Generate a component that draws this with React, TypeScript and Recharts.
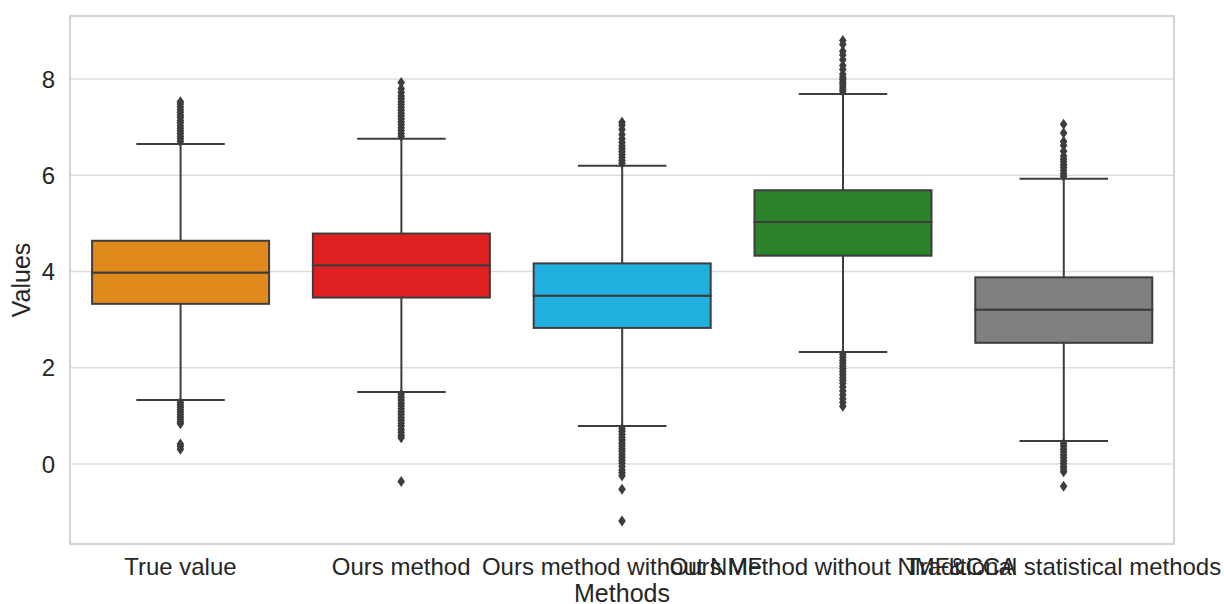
import {
  ComposedChart,
  Bar,
  Scatter,
  XAxis,
  YAxis,
  CartesianGrid,
  ReferenceArea,
} from 'recharts';

// Box plot summary per method
const methods = [
  'True value',
  'Ours method',
  'Ours method without NMF',
  'Ours Method without NMF&CCA',
  'Traditional statistical methods',
];
const whiskerLow = [1.33, 1.5, 0.79, 2.33, 0.48];
const q1 = [3.33, 3.46, 2.83, 4.33, 2.52];
const median = [3.98, 4.13, 3.5, 5.03, 3.21];
const q3 = [4.64, 4.79, 4.17, 5.69, 3.88];
const whiskerHigh = [6.65, 6.76, 6.2, 7.69, 5.93];

const boxColors = ['#e08a1e', '#df2020', '#20b0e0', '#2a832a', '#808080'];

// Outlier points (fliers), per method
const trueValueOutliers = [
  6.7, 6.76, 6.81, 6.87, 6.92, 6.98, 7.03, 7.09, 7.14, 7.2, 7.25, 7.31, 7.36, 7.42, 7.48, 7.53,
  1.28, 1.23, 1.18, 1.13, 1.08, 1.03, 0.98, 0.93, 0.88, 0.84, 0.42, 0.37, 0.31,
];
const oursOutliers = [
  6.81, 6.87, 6.93, 6.99, 7.05, 7.11, 7.17, 7.23, 7.29, 7.35, 7.41, 7.47, 7.53, 7.59, 7.65, 7.72, 7.8, 7.93,
  1.45, 1.39, 1.33, 1.27, 1.21, 1.15, 1.09, 1.03, 0.97, 0.91, 0.85, 0.79, 0.72, 0.66, 0.6, 0.55, -0.36,
];
const noNmfOutliers = [
  6.25, 6.31, 6.37, 6.43, 6.49, 6.55, 6.61, 6.68, 6.76, 6.85, 6.95, 7.04, 7.1,
  0.74, 0.68, 0.62, 0.56, 0.5, 0.44, 0.38, 0.32, 0.26, 0.2, 0.14, 0.08, 0.02, -0.05, -0.12, -0.18, -0.24, -0.52, -1.18,
];
const noNmfCcaOutliers = [
  7.74, 7.79, 7.84, 7.89, 7.94, 7.99, 8.04, 8.1, 8.2, 8.28, 8.4, 8.5, 8.58, 8.72, 8.8,
  2.28, 2.22, 2.16, 2.1, 2.04, 1.98, 1.92, 1.86, 1.8, 1.74, 1.68, 1.6, 1.52, 1.44, 1.36, 1.28, 1.2,
];
const traditionalOutliers = [
  5.98, 6.04, 6.1, 6.16, 6.22, 6.28, 6.34, 6.4, 6.5, 6.62, 6.7, 6.88, 7.06,
  0.43, 0.37, 0.31, 0.25, 0.19, 0.13, 0.07, 0.01, -0.05, -0.1, -0.16, -0.46,
];
const outlierLists = [trueValueOutliers, oursOutliers, noNmfOutliers, noNmfCcaOutliers, traditionalOutliers];

const yTicks = [0, 2, 4, 6, 8];

const LINE = '#3d3d3d';
const FONT = '"Liberation Sans", Arial, sans-serif';

const boxData = methods.map((method, i) => ({
  method,
  base: whiskerLow[i],
  lowWhisker: q1[i] - whiskerLow[i],
  lowBox: median[i] - q1[i],
  highBox: q3[i] - median[i],
  highWhisker: whiskerHigh[i] - q3[i],
}));

const outlierData = methods.flatMap((method, i) =>
  outlierLists[i].map((value) => ({ method, value }))
);

// lower whisker: stem from Q1 down to the cap at the bar's bottom
const LowWhisker = (props: any) => {
  const { x, y, width, height } = props;
  const cx = x + width / 2;
  return (
    <g>
      <line x1={cx} x2={cx} y1={y} y2={y + height} stroke={LINE} strokeWidth={2} />
      <line x1={cx - width / 4} x2={cx + width / 4} y1={y + height} y2={y + height} stroke={LINE} strokeWidth={2} />
    </g>
  );
};

const HighWhisker = (props: any) => {
  const { x, y, width, height } = props;
  const cx = x + width / 2;
  return (
    <g>
      <line x1={cx} x2={cx} y1={y} y2={y + height} stroke={LINE} strokeWidth={2} />
      <line x1={cx - width / 4} x2={cx + width / 4} y1={y} y2={y} stroke={LINE} strokeWidth={2} />
    </g>
  );
};

const BoxPart = (props: any) => {
  const { x, y, width, height, index } = props;
  return (
    <rect x={x} y={y} width={width} height={height} fill={boxColors[index]} stroke={LINE} strokeWidth={2} />
  );
};

const Diamond = (props: any) => {
  const { cx, cy } = props;
  if (cx == null || cy == null) return null;
  return (
    <path
      d={`M${cx},${cy - 5.5} L${cx + 3.8},${cy} L${cx},${cy + 5.5} L${cx - 3.8},${cy} Z`}
      fill={LINE}
    />
  );
};

export default function App() {
  return (
    <div style={{ position: 'absolute', left: 0, top: 0, background: '#fff' }}>
      <ComposedChart
        width={1224}
        height={604}
        data={boxData}
        margin={{ top: 16, right: 50, left: 0, bottom: 0 }}
        barCategoryGap="10%"
        style={{ fontFamily: FONT }}
      >
        <CartesianGrid vertical={false} stroke="#dcdcdc" strokeWidth={1.5} />
        <ReferenceArea y1={-1.66} y2={9.31} fill="none" stroke="#d4d4d4" strokeWidth={2} ifOverflow="visible" />
        <XAxis
          dataKey="method"
          type="category"
          allowDuplicatedCategory={false}
          interval={0}
          axisLine={false}
          tickLine={false}
          tickSize={12}
          height={60}
          tick={{ fill: '#262626', fontSize: 24, fontFamily: FONT }}
          label={{ value: 'Methods', position: 'insideBottom', offset: 2, fill: '#262626', fontSize: 25, fontFamily: FONT }}
        />
        <YAxis
          type="number"
          domain={[-1.66, 9.31]}
          ticks={yTicks}
          width={70}
          axisLine={false}
          tickLine={false}
          tickSize={13}
          tick={{ fill: '#262626', fontSize: 24, fontFamily: FONT }}
          label={{
            value: 'Values',
            angle: -90,
            position: 'insideLeft',
            offset: 21,
            fill: '#262626',
            fontSize: 25,
            fontFamily: FONT,
            style: { textAnchor: 'middle' },
          }}
        />
        <Bar dataKey="base" stackId="box" fill="none" isAnimationActive={false} />
        <Bar dataKey="lowWhisker" stackId="box" shape={LowWhisker} isAnimationActive={false} />
        <Bar dataKey="lowBox" stackId="box" shape={BoxPart} isAnimationActive={false} />
        <Bar dataKey="highBox" stackId="box" shape={BoxPart} isAnimationActive={false} />
        <Bar dataKey="highWhisker" stackId="box" shape={HighWhisker} isAnimationActive={false} />
        <Scatter data={outlierData} dataKey="value" shape={Diamond} isAnimationActive={false} />
      </ComposedChart>
    </div>
  );
}
